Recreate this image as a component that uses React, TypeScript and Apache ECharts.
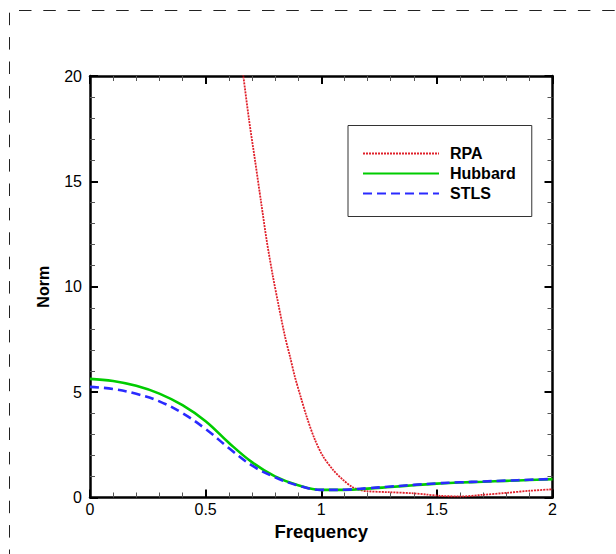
import React, { useEffect, useRef } from "react";
import * as echarts from "echarts";

const seriesNames = ["RPA", "Hubbard", "STLS"];
const xTickLabels = ["0", "0.5", "1", "1.5", "2"];
const yTickLabels = ["0", "5", "10", "15", "20"];

const gridFreq = [0, 0.1, 0.2, 0.3, 0.4, 0.5, 0.6, 0.7, 0.8, 0.9, 1.0, 1.1, 1.2, 1.3, 1.4, 1.5, 1.6, 1.7, 1.8, 1.9, 2.0];
const hubbardValues = [5.63, 5.53, 5.3, 4.93, 4.38, 3.62, 2.6, 1.68, 1.0, 0.58, 0.36, 0.36, 0.42, 0.5, 0.58, 0.66, 0.71, 0.75, 0.79, 0.83, 0.87];
const stlsValues = [5.25, 5.15, 4.92, 4.56, 4.0, 3.25, 2.35, 1.52, 0.96, 0.57, 0.36, 0.37, 0.44, 0.52, 0.6, 0.67, 0.72, 0.76, 0.8, 0.84, 0.88];

const rpaFreq = [0.65, 0.663, 0.688, 0.714, 0.74, 0.764, 0.79, 0.814, 0.843, 0.865, 0.886, 0.911, 0.937, 0.973, 1.009, 1.052, 1.095, 1.132, 1.16, 1.196, 1.297, 1.398, 1.456, 1.514, 1.6, 1.7, 1.8, 1.903, 2.0];
const rpaValues = [21.1, 20.0, 17.9, 15.97, 14.0, 12.2, 10.55, 9.2, 7.65, 6.68, 5.73, 4.78, 3.83, 2.73, 1.93, 1.3, 0.83, 0.51, 0.38, 0.3, 0.25, 0.2, 0.14, 0.08, 0.05, 0.13, 0.22, 0.32, 0.39];

const FONT = "'Liberation Sans', Arial, sans-serif";

export default function App() {
  const ref = useRef<HTMLDivElement>(null);
  useEffect(() => {
    document.body.style.margin = "0";
    if (!ref.current) return;
    const chart = echarts.init(ref.current, undefined, { renderer: "svg" });
    const pair = (xs: number[], ys: number[]) => xs.map((x, i) => [x, ys[i]]);
    const tickCommon = {
      axisLine: { show: true, onZero: false, lineStyle: { color: "#000", width: 2.5 } },
      axisTick: { show: true, inside: true, length: 8, lineStyle: { color: "#000", width: 2 } },
      minorTick: { show: true, splitNumber: 5, length: 5, lineStyle: { color: "#555", width: 1 } },
      splitLine: { show: false },
      minorSplitLine: { show: false },
    };
    const xLabelFmt = (v: number) => xTickLabels[Math.round(v / 0.5)] ?? "";
    const yLabelFmt = (v: number) => yTickLabels[Math.round(v / 5)] ?? "";
    chart.setOption({
      animation: false,
      backgroundColor: "#fff",
      grid: { left: 90, top: 76, right: 63.5, bottom: 56.5, containLabel: false },
      graphic: [
        {
          type: "line",
          shape: { x1: 19, y1: 10.5, x2: 616, y2: 10.5 },
          style: { stroke: "#222", lineWidth: 1, lineDash: [12.5, 11.8] },
          silent: true,
        },
        {
          type: "line",
          shape: { x1: 9.5, y1: 12.7, x2: 9.5, y2: 554 },
          style: { stroke: "#222", lineWidth: 1, lineDash: [12.5, 11.9] },
          silent: true,
        },
      ],
      legend: {
        orient: "vertical",
        left: 348,
        top: 125.5,
        data: seriesNames,
        itemWidth: 76,
        itemHeight: 16,
        itemGap: 4,
        padding: [20, 16, 15, 14],
        borderColor: "#333",
        borderWidth: 1,
        backgroundColor: "#fff",
        itemStyle: { opacity: 0 },
        textStyle: { fontFamily: FONT, fontWeight: "bold", fontSize: 16, color: "#000", lineHeight: 16, padding: [0, 0, 0, 6] },
      },
      xAxis: [
        {
          type: "value",
          position: "bottom",
          min: 0,
          max: 2,
          interval: 0.5,
          name: "Frequency",
          nameLocation: "middle",
          nameGap: 18,
          nameTextStyle: { fontFamily: FONT, fontWeight: "bold", fontSize: 18.5, color: "#000", verticalAlign: "top" },
          axisLabel: { fontFamily: FONT, fontSize: 16, color: "#000", margin: 4, formatter: xLabelFmt },
          ...tickCommon,
        },
        {
          type: "value",
          position: "top",
          min: 0,
          max: 2,
          interval: 0.5,
          axisLabel: { show: false },
          ...tickCommon,
        },
      ],
      yAxis: [
        {
          type: "value",
          position: "left",
          min: 0,
          max: 20,
          interval: 5,
          name: "Norm",
          nameLocation: "middle",
          nameGap: 39,
          nameTextStyle: { fontFamily: FONT, fontWeight: "bold", fontSize: 16, color: "#000" },
          axisLabel: { fontFamily: FONT, fontSize: 16, color: "#000", margin: 8, formatter: yLabelFmt },
          ...tickCommon,
        },
        {
          type: "value",
          position: "right",
          min: 0,
          max: 20,
          interval: 5,
          axisLabel: { show: false },
          ...tickCommon,
        },
      ],
      series: [
        {
          name: seriesNames[0],
          type: "line",
          data: pair(rpaFreq, rpaValues),
          symbol: "none",
          smooth: 0.3,
          clip: true,
          lineStyle: { color: "#e0202a", width: 1.8, type: [2, 1] },
          itemStyle: { color: "#e0202a" },
          z: 3,
        },
        {
          name: seriesNames[1],
          type: "line",
          data: pair(gridFreq, hubbardValues),
          symbol: "none",
          smooth: 0.4,
          clip: true,
          lineStyle: { color: "#00cc00", width: 2.6, type: "solid" },
          itemStyle: { color: "#00cc00" },
          z: 4,
        },
        {
          name: seriesNames[2],
          type: "line",
          data: pair(gridFreq, stlsValues),
          symbol: "none",
          smooth: 0.4,
          clip: true,
          lineStyle: { color: "#2a2aff", width: 2.6, type: [9, 5] },
          itemStyle: { color: "#2a2aff" },
          z: 5,
        },
      ],
    });
    return () => chart.dispose();
  }, []);
  return <div ref={ref} style={{ width: 616, height: 554 }} />;
}
